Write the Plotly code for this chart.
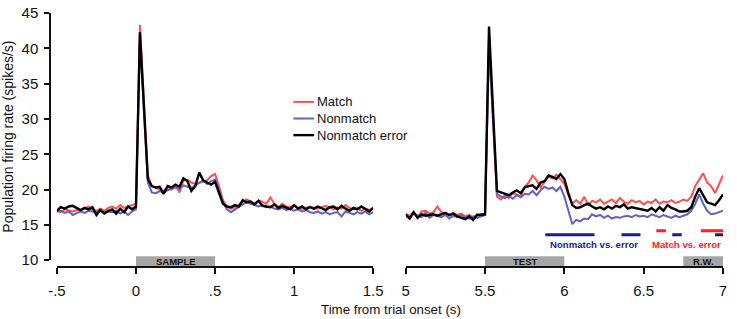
import plotly.graph_objects as go

# ---------------- data ----------------
t_left = [round(-0.5 + 0.025 * i, 3) for i in range(81)]
t_right = [round(5.0 + 0.025 * i, 3) for i in range(81)]

match_left = [17.0, 16.8, 17.2, 17.0, 16.9, 17.1, 17.0, 17.3, 17.6, 17.2,
              17.0, 17.3, 17.0, 17.4, 17.6, 17.3, 17.8, 17.4, 17.6, 17.9,
              18.0, 43.3, 33.0, 22.0, 20.5, 20.2, 20.0, 19.8, 20.4, 20.0,
              20.6, 19.6, 21.3, 21.4, 21.0, 20.8, 21.0, 21.2, 21.3, 21.9,
              22.2, 20.5, 18.5, 17.6, 17.3, 17.5, 17.8, 18.2, 18.6, 18.3,
              18.0, 18.5, 18.2, 18.0, 18.9, 18.0, 17.5, 18.0, 17.6, 17.5,
              17.8, 17.4, 17.3, 17.5, 17.6, 17.4, 17.3, 17.5, 17.7, 17.4,
              17.2, 17.5, 17.3, 17.8, 17.4, 17.2, 17.4, 17.0, 17.3, 17.1,
              17.4]
nonmatch_left = [16.9, 17.0, 16.7, 16.9, 16.4, 16.6, 16.9, 16.7, 17.0, 16.9,
                 16.8, 17.1, 16.7, 16.9, 16.8, 17.0, 16.6, 16.9, 16.4, 16.9,
                 17.2, 41.5, 30.5, 21.0, 19.6, 19.5, 19.8, 19.6, 19.9, 20.1,
                 20.3, 20.0, 20.6, 20.4, 20.2, 20.6, 21.0, 21.3, 20.8, 21.2,
                 21.4, 20.0, 18.2, 17.2, 16.8, 17.2, 17.5, 17.9, 18.2, 18.0,
                 17.8, 17.6, 17.8, 17.5, 17.6, 17.3, 17.2, 17.4, 17.1, 17.3,
                 17.0, 17.2, 16.9, 17.1, 16.8, 16.7, 16.9, 16.6, 16.8, 16.5,
                 16.7, 16.8, 16.2, 16.9, 16.7, 16.5, 16.8, 16.6, 16.9, 16.5,
                 16.8]
error_left = [17.0, 17.5, 17.3, 17.6, 17.7, 17.4, 17.1, 17.4, 17.2, 17.5,
              16.4, 17.1, 16.6, 17.0, 17.2, 16.6, 17.3, 16.8, 17.6, 17.2,
              17.6, 42.3, 31.5, 21.5, 20.5, 20.3, 20.4, 19.4, 20.5, 20.3,
              20.7, 20.4, 21.6, 21.2, 19.8, 20.5, 22.4, 21.3, 21.0, 20.7,
              21.1, 19.5, 18.0, 17.6, 17.5, 17.8, 17.6, 18.5, 18.2, 18.3,
              17.9, 18.4, 17.7, 17.6, 17.5, 17.9, 17.4, 17.7, 17.5, 17.2,
              17.8, 17.3, 17.6, 17.2, 17.5, 17.3, 17.6, 17.4, 17.1, 17.5,
              17.6, 17.2, 17.7, 17.3, 17.0, 17.4, 17.2, 17.6, 17.3, 16.9,
              17.4]

match_right = [16.5, 16.3, 16.8, 16.0, 16.9, 17.0, 16.6, 16.8, 17.6, 16.8,
               16.5, 16.3, 16.7, 16.4, 16.6, 16.2, 16.4, 16.0, 16.5, 16.3,
               16.6, 41.5, 30.0, 19.0, 18.6, 19.2, 18.8, 19.5, 19.3, 19.0,
               20.4, 21.0, 22.0, 21.3, 20.3, 21.0, 21.8, 21.6, 22.1, 21.5,
               20.8, 19.3, 18.0, 18.5, 18.0, 19.0, 17.8, 18.4, 18.2, 18.6,
               18.0, 18.3, 18.6, 18.1, 18.8, 18.3, 18.0, 18.5, 18.2, 18.4,
               17.9, 18.3, 18.1, 18.6, 18.0, 18.3, 18.2, 18.5, 18.1, 18.3,
               18.6, 18.4, 19.0, 20.5, 21.5, 22.3, 21.0, 20.5, 19.5, 20.8,
               22.0]
nonmatch_right = [16.2, 16.0, 16.6, 16.3, 16.1, 16.7, 16.0, 16.4, 16.3, 16.1,
                  16.4, 15.9, 16.3, 16.1, 16.4, 16.0, 15.9, 16.2, 16.0, 16.2,
                  16.4, 40.5, 29.0, 19.4, 19.0, 18.8, 19.1, 18.7, 19.2, 18.9,
                  19.4, 19.3, 19.8, 19.2, 19.9, 20.4, 20.1, 20.3, 19.8, 20.4,
                  19.0, 17.0, 15.1, 15.7, 15.5, 15.9, 15.8, 16.5, 16.2, 16.4,
                  16.0, 16.3, 15.9, 16.1, 16.0, 16.2, 16.3, 16.1, 16.4, 16.2,
                  16.3, 16.1, 16.5, 16.3, 16.1, 16.4, 16.2, 16.0, 16.3, 16.1,
                  16.3, 16.5, 17.0, 18.0, 19.3, 18.0, 17.0, 16.5, 16.6, 16.8,
                  17.0]
error_right = [16.5, 15.9, 16.8, 16.0, 16.5, 16.3, 16.4, 16.5, 16.3, 16.5,
               16.7, 16.4, 16.6, 16.2, 16.0, 15.8, 16.2, 15.7, 16.4, 16.5,
               16.5, 43.1, 31.0, 19.8, 19.6, 19.4, 19.2, 19.6, 19.9, 19.5,
               20.3, 20.5, 20.6, 20.1, 21.0, 21.2, 22.0, 21.8, 21.5, 22.2,
               21.5, 19.5, 17.8, 17.4, 17.5, 17.8, 18.0, 17.6, 17.3, 17.5,
               17.2, 17.6, 17.3, 17.7, 17.5, 17.9, 17.3, 17.5, 17.4, 17.2,
               17.1, 17.0, 17.4, 16.9, 17.5, 17.0, 17.8, 17.4, 17.2, 16.9,
               16.9, 17.0, 17.5, 19.0, 20.2, 19.2, 18.2, 18.0, 17.8, 18.5,
               19.3]

# significance segments (start, end) in s
sig_nonmatch_err = [(5.88, 6.19), (6.36, 6.48), (6.68, 6.74), (6.95, 7.0)]
sig_match_err = [(6.58, 6.64), (6.86, 7.0)]

# task epochs
epochs = [("SAMPLE", 0.0, 0.5, "x"), ("TEST", 5.5, 6.0, "x2"), ("R.W.", 6.75, 7.0, "x2")]

y_ticks = [10, 15, 20, 25, 30, 35, 40, 45]
left_ticks = [-0.5, 0, 0.5, 1, 1.5]
left_ticklabels = ["-.5", "0", ".5", "1", "1.5"]
right_ticks = [5, 5.5, 6, 6.5, 7]
right_ticklabels = ["5", "5.5", "6", "6.5", "7"]

RED = "#ff4f4f"
BLUE = "#6262c4"
BLACK = "#000000"
SIG_BLUE = "#1c1c8a"
SIG_RED = "#ff2020"
FONT = "Arial, Liberation Sans, sans-serif"

W, H = 737, 319
ML, MR, MT, MB = 50, 4, 7, 52
PW = W - ML - MR
PH = H - MT - MB


def px_x(px):
    return (px - ML) / PW


def px_y(py):
    return (H - MB - py) / PH


fig = go.Figure()

series = [("Match", match_left, match_right, RED, 2.0),
          ("Nonmatch", nonmatch_left, nonmatch_right, BLUE, 2.0),
          ("Nonmatch error", error_left, error_right, BLACK, 2.4)]
for name, yl, yr, col, w in series:
    fig.add_trace(go.Scatter(x=t_left, y=yl, mode="lines", name=name,
                             line=dict(color=col, width=w), xaxis="x", yaxis="y",
                             legendgroup=name, showlegend=False))
    fig.add_trace(go.Scatter(x=t_right, y=yr, mode="lines", name=name,
                             line=dict(color=col, width=w), xaxis="x2", yaxis="y",
                             legendgroup=name, showlegend=False))


def seg_xy(segs, yv):
    xs, ys = [], []
    for a, b in segs:
        xs += [a, b, None]
        ys += [yv, yv, None]
    return xs, ys


xs, ys = seg_xy(sig_nonmatch_err, 13.6)
fig.add_trace(go.Scatter(x=xs, y=ys, mode="lines", line=dict(color=SIG_BLUE, width=3),
                         xaxis="x2", yaxis="y", showlegend=False, hoverinfo="skip"))
xs, ys = seg_xy(sig_match_err, 14.15)
fig.add_trace(go.Scatter(x=xs, y=ys, mode="lines", line=dict(color=SIG_RED, width=3),
                         xaxis="x2", yaxis="y", showlegend=False, hoverinfo="skip"))

shapes = []
annotations = []
for label, a, b, xr in epochs:
    shapes.append(dict(type="rect", xref=xr, yref="paper", x0=a, x1=b,
                       y0=px_y(266), y1=px_y(256), fillcolor="#a6a6a6",
                       line=dict(width=0), layer="below"))
    annotations.append(dict(x=(a + b) / 2, y=px_y(261), xref=xr, yref="paper",
                            text="<b>%s</b>" % label, showarrow=False,
                            font=dict(family=FONT, size=9.5, color="#111"),
                            xanchor="center", yanchor="middle"))

# legend (manual, to match the compact original)
legend_rows = [("Match", RED, 98), ("Nonmatch", BLUE, 115), ("Nonmatch error", BLACK, 132)]
for name, col, py in legend_rows:
    shapes.append(dict(type="line", xref="paper", yref="paper",
                       x0=px_x(297), x1=px_x(318), y0=px_y(py), y1=px_y(py),
                       line=dict(color=col, width=2.4 if col == BLACK else 2)))
    annotations.append(dict(x=px_x(319), y=px_y(py), xref="paper", yref="paper",
                            text=name, showarrow=False, xanchor="left", yanchor="middle",
                            font=dict(family=FONT, size=13, color="#111")))

annotations.append(dict(x=6.19, y=12.2, xref="x2", yref="y", text="<b>Nonmatch vs. error</b>",
                        showarrow=False, xanchor="center", yanchor="middle",
                        font=dict(family=FONT, size=9.6, color=SIG_BLUE)))
annotations.append(dict(x=7.0, y=12.2, xref="x2", yref="y", text="<b>Match vs. error</b>",
                        showarrow=False, xanchor="right", yanchor="middle",
                        font=dict(family=FONT, size=9.6, color=SIG_RED)))
annotations.append(dict(x=px_x(396), y=px_y(310), xref="paper", yref="paper",
                        text="Time from trial onset (s)", showarrow=False,
                        xanchor="center", yanchor="middle",
                        font=dict(family=FONT, size=13.3, color="#111")))

axis_font = dict(family=FONT, size=15, color="#111")

fig.update_layout(
    width=W, height=H, autosize=False,
    margin=dict(l=ML, r=MR, t=MT, b=MB, pad=0),
    paper_bgcolor="white", plot_bgcolor="white",
    showlegend=False,
    xaxis=dict(domain=[px_x(57), px_x(378)], range=[-0.5, 1.5], anchor="free", position=0,
               tickvals=left_ticks, ticktext=left_ticklabels, ticks="outside", ticklen=6,
               tickwidth=1.5, tickcolor="#111", showline=True, linecolor="#111", linewidth=1.5,
               showgrid=False, zeroline=False, tickfont=axis_font, ticklabelstandoff=4,
               ticklabeloverflow="allow"),
    xaxis2=dict(domain=[px_x(411), px_x(733)], range=[5, 7], anchor="free", position=0,
                tickvals=right_ticks, ticktext=right_ticklabels, ticks="outside", ticklen=6,
                tickwidth=1.5, tickcolor="#111", showline=True, linecolor="#111", linewidth=1.5,
                showgrid=False, zeroline=False, tickfont=axis_font, ticklabelstandoff=4,
                ticklabeloverflow="allow"),
    yaxis=dict(domain=[px_y(260), 1], range=[10, 45.02], anchor="free", position=0,
               tickvals=y_ticks, ticks="outside", ticklen=5, tickwidth=1.5, tickcolor="#111",
               showline=True, linecolor="#111", linewidth=1.5, showgrid=False, zeroline=False,
               tickfont=axis_font, ticklabelstandoff=3, ticklabeloverflow="allow",
               title=dict(text="Population firing rate (spikes/s)", standoff=6,
                          font=dict(family=FONT, size=14, color="#111"))),
    shapes=shapes,
    annotations=annotations,
)

fig.write_html("out.html", config={"displayModeBar": False},
               post_script="document.body.style.margin='0px';")
